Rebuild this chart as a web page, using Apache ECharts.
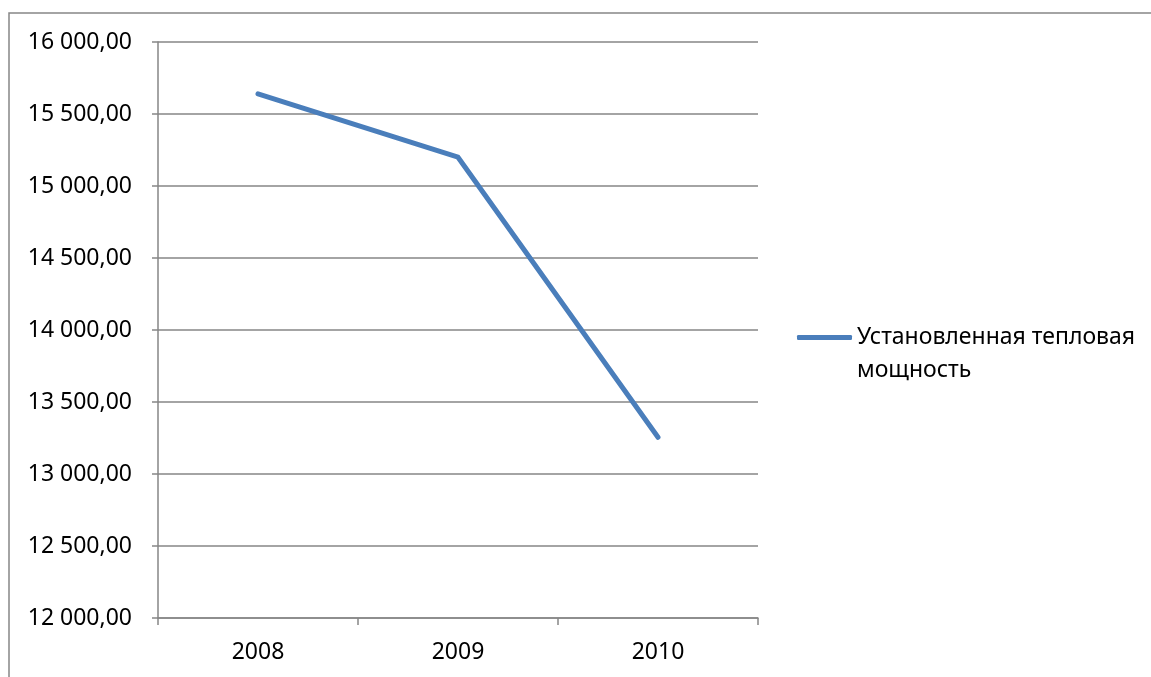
<!DOCTYPE html>
<html>
<head>
<meta charset="utf-8">
<script src="https://cdn.jsdelivr.net/npm/echarts@6/dist/echarts.min.js"></script>
<style>
  html, body { margin: 0; padding: 0; background: #ffffff; }
  #chart { width: 1151px; height: 677px; }
</style>
</head>
<body>
<div id="chart"></div>
<script>
// Installed heat capacity by year
const years = ['2008', '2009', '2010'];
const capacity = [15640, 15200, 13255];
const seriesName = 'Установленная тепловая мощность';
const legendLines = ['Установленная тепловая', 'мощность'];

const yMin = 12000, yMax = 16000, yStep = 500;
const fontFamily = '"Noto Sans", "Liberation Sans", sans-serif';
const axisGray = '#868686';

// "16 000,00" style: space thousands separator, comma decimal
function fmtNumber(v) {
  const parts = v.toFixed(2).split('.');
  const intPart = parts[0].replace(/\B(?=(\d{3})+(?!\d))/g, ' ');
  return intPart + ',' + parts[1];
}

const chart = echarts.init(document.getElementById('chart'), null, { renderer: 'canvas' });

chart.setOption({
  animation: false,
  backgroundColor: '#ffffff',
  grid: { left: 158, right: 393, top: 42, bottom: 59, containLabel: false },
  graphic: [{
    type: 'rect',
    shape: { x: 9, y: 13, width: 1400, height: 900 },
    style: { fill: 'none', stroke: axisGray, lineWidth: 1.5 },
    silent: true,
    z: -1
  }],
  legend: {
    show: true,
    orient: 'vertical',
    left: 797,
    top: 326,
    padding: 0,
    itemWidth: 55,
    itemHeight: 5,
    icon: 'roundRect',
    formatter: function () {
      return '{t|' + legendLines.join('}\n{t|') + '}';
    },
    textStyle: {
      padding: [33, 0, 0, 0],
      rich: {
        t: { fontFamily: fontFamily, fontSize: 23, color: '#000000', lineHeight: 33 }
      }
    },
    data: [{ name: seriesName }]
  },
  xAxis: {
    type: 'category',
    data: years,
    boundaryGap: true,
    axisLine: { show: true, lineStyle: { color: axisGray, width: 1.5 } },
    axisTick: { show: true, length: 7, alignWithLabel: false, lineStyle: { color: axisGray, width: 1.5 } },
    axisLabel: { fontFamily: fontFamily, fontSize: 23, color: '#000000', margin: 23 },
    splitLine: { show: false }
  },
  yAxis: {
    type: 'value',
    min: yMin,
    max: yMax,
    interval: yStep,
    axisLine: { show: true, lineStyle: { color: axisGray, width: 1.5 } },
    axisTick: { show: true, inside: false, length: 6, lineStyle: { color: axisGray, width: 1.5 } },
    axisLabel: {
      fontFamily: fontFamily, fontSize: 23, color: '#000000', margin: 26,
      formatter: function (v) { return fmtNumber(v); }
    },
    splitLine: { show: true, lineStyle: { color: axisGray, width: 1.5 } }
  },
  series: [{
    name: seriesName,
    type: 'line',
    data: capacity,
    showSymbol: false,
    symbol: 'none',
    itemStyle: { color: '#4A7EBB' },
    lineStyle: { color: '#4A7EBB', width: 5, cap: 'round', join: 'round' }
  }]
});
</script>
</body>
</html>
